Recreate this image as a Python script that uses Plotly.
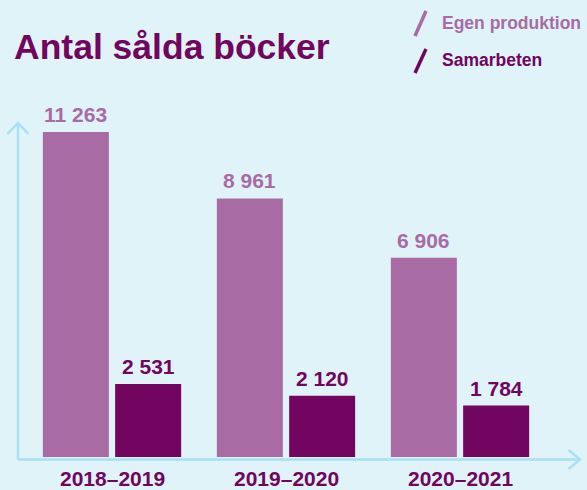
import plotly.graph_objects as go

# ---- data ----
categories = ["2018–2019", "2019–2020", "2020–2021"]
egen_produktion = [11263, 8961, 6906]
samarbeten = [2531, 2120, 1784]
series_names = ["Egen produktion", "Samarbeten"]
title_text = "Antal sålda böcker"

# ---- styling ----
W, H = 587, 490
BG = "#E0F3F9"
PINK = "#A96BA3"
PURPLE = "#71055F"
AXIS = "#A7E1F3"
FONT = "Liberation Sans, Arial, Helvetica, sans-serif"

# pixel geometry helpers (layout only)
base_px = 457          # pixel row of value 0
px_per_unit = 325 / 11263
first_center_px = 112
slot_px = 174

y_lo = -(H - base_px) / px_per_unit
y_hi = base_px / px_per_unit
x_lo = -first_center_px / slot_px
x_hi = (W - first_center_px) / slot_px


def px(x):
    return x / W


def py(y):
    return 1 - y / H


def bold(t):
    return f"<b>{t}</b>"


fig = go.Figure()
fig.add_trace(go.Bar(x=categories, y=egen_produktion, name=series_names[0],
                     marker=dict(color=PINK, line=dict(width=0)), hoverinfo="skip"))
fig.add_trace(go.Bar(x=categories, y=samarbeten, name=series_names[1],
                     marker=dict(color=PURPLE, line=dict(width=0)), hoverinfo="skip"))

annotations = []
# value labels
offsets = [-0.5, 0.5]
sub = (1 - 0.169) / 2
for series, color, off in [(egen_produktion, PINK, offsets[0]), (samarbeten, PURPLE, offsets[1])]:
    for i, v in enumerate(series):
        annotations.append(dict(
            x=i + off * sub, y=v, xref="x", yref="y",
            text=bold(f"{v:,}".replace(",", " ")),
            showarrow=False, yanchor="middle", yshift=17.5,
            font=dict(family=FONT, size=21, color=color),
        ))
# category labels
for i, c in enumerate(categories):
    annotations.append(dict(
        x=i, y=py(478), xref="x", yref="paper", text=bold(c), showarrow=False,
        yanchor="middle", xanchor="center", borderpad=0,
        font=dict(family=FONT, size=21, color=PURPLE),
    ))
# title
annotations.append(dict(
    x=px(12), y=py(47.5), xref="paper", yref="paper", text=bold(title_text),
    showarrow=False, xanchor="left", yanchor="middle",
    font=dict(family=FONT, size=35.5, color=PURPLE),
))
# legend texts
for name, color, yc in [(series_names[0], PINK, 23), (series_names[1], PURPLE, 60)]:
    annotations.append(dict(
        x=px(440), y=py(yc), xref="paper", yref="paper", text=bold(name),
        showarrow=False, xanchor="left", yanchor="middle",
        font=dict(family=FONT, size=17.5, color=color),
    ))

shapes = []
# axes lines
shapes.append(dict(type="line", xref="paper", yref="paper",
                   x0=px(18), y0=py(459.5), x1=px(18), y1=py(123),
                   line=dict(color=AXIS, width=2.5)))
shapes.append(dict(type="line", xref="paper", yref="paper",
                   x0=px(18), y0=py(459.5), x1=px(580), y1=py(459.5),
                   line=dict(color=AXIS, width=2.5)))
# arrow heads (open chevrons)
shapes.append(dict(type="path", xref="paper", yref="paper",
                   path=f"M {px(7.5)} {py(134)} L {px(18)} {py(123)} L {px(28.5)} {py(134)}",
                   line=dict(color=AXIS, width=2.5)))
shapes.append(dict(type="path", xref="paper", yref="paper",
                   path=f"M {px(568.5)} {py(450)} L {px(580)} {py(459.5)} L {px(568.5)} {py(469)}",
                   line=dict(color=AXIS, width=2.5)))
# legend slashes
for color, (ytop, ybot) in [(PINK, (11, 36)), (PURPLE, (49, 73))]:
    shapes.append(dict(type="line", xref="paper", yref="paper",
                       x0=px(415), y0=py(ybot), x1=px(426), y1=py(ytop),
                       line=dict(color=color, width=3.5)))

fig.update_layout(
    width=W, height=H,
    margin=dict(l=0, r=0, t=0, b=0),
    paper_bgcolor=BG, plot_bgcolor=BG,
    barmode="group", bargap=0.169, bargroupgap=0.087,
    showlegend=False,
    xaxis=dict(range=[x_lo, x_hi], showgrid=False, zeroline=False,
               showticklabels=False, showline=False, fixedrange=True),
    yaxis=dict(range=[y_lo, y_hi], showgrid=False, zeroline=False,
               showticklabels=False, showline=False, fixedrange=True),
    annotations=annotations,
    shapes=shapes,
    font=dict(family=FONT),
)

fig.write_html(
    "out.html",
    config={"displayModeBar": False},
    post_script="document.body.style.margin='0';document.body.style.overflow='hidden';",
)
